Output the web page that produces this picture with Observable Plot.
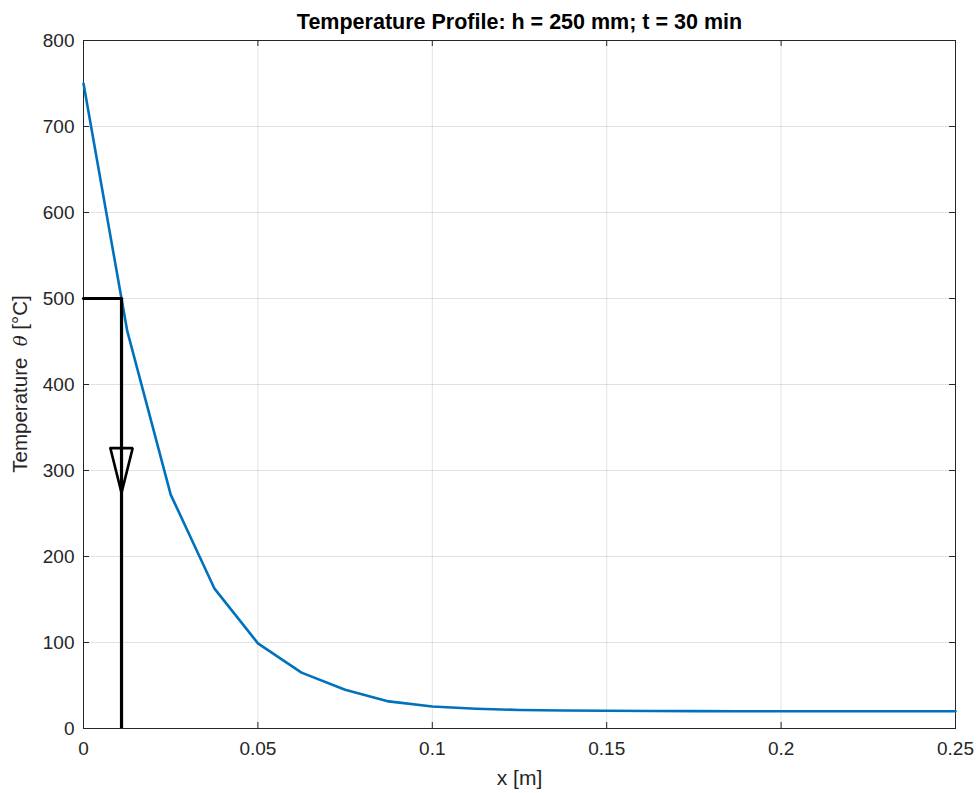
<!DOCTYPE html>
<html><head><meta charset="utf-8">
<script src="https://cdn.jsdelivr.net/npm/d3@7"></script>
<script src="https://cdn.jsdelivr.net/npm/@observablehq/plot@0.6"></script>
<style>
body{margin:0;background:#fff}
#chart svg{font-family:"Liberation Sans",Arial,sans-serif}
</style>
</head><body><div id="chart"></div>
<script>
// ---- data ----
const xPos  = [0, 0.0125, 0.025, 0.0375, 0.05, 0.0625, 0.075, 0.0875, 0.1, 0.1125, 0.125, 0.1375, 0.15, 0.1625, 0.175, 0.1875, 0.2, 0.2125, 0.225, 0.2375, 0.25];
const temps = [750, 463, 272, 163, 99, 65, 45, 31.5, 25.5, 23, 21.5, 21, 20.6, 20.4, 20.2, 20.1, 20, 20, 20, 20, 20];
const xTicks = [0, 0.05, 0.1, 0.15, 0.2, 0.25];
const yTicks = [0, 100, 200, 300, 400, 500, 600, 700, 800];
const markerX = 0.0109;      // x where profile reaches 500 °C
const markerTemp = 500;
const arrowTop = 326, arrowTip = 274, arrowHalf = 0.0032;
const title = "Temperature Profile: h = 250 mm; t = 30 min";
const xLabel = "x [m]";
const yLabelParts = ["Temperature  ", "θ", " [°C]"];

const profile = xPos.map((x, i) => ({x, t: temps[i]}));
const hLine = [{x: 0, t: markerTemp}, {x: markerX, t: markerTemp}];
const arrow = [
  {x: markerX - arrowHalf, t: arrowTop},
  {x: markerX + arrowHalf, t: arrowTop},
  {x: markerX, t: arrowTip},
  {x: markerX - arrowHalf, t: arrowTop}
];

const W = 978, H = 793, mL = 83, mR = 23, mT = 40, mB = 65;
const fw = W - mL - mR, fh = H - mT - mB;
const axisCol = "#262626";

const chart = Plot.plot({
  width: W, height: H,
  marginLeft: mL, marginRight: mR, marginTop: mT, marginBottom: mB,
  style: {fontFamily: '"Liberation Sans", Arial, sans-serif', fontSize: "19px", color: axisCol, background: "#fff"},
  x: {domain: [0, 0.25], type: "linear"},
  y: {domain: [0, 800], type: "linear"},
  marks: [
    Plot.gridX(xTicks, {stroke: "#000", strokeOpacity: 0.11}),
    Plot.gridY(yTicks, {stroke: "#000", strokeOpacity: 0.11}),
    Plot.ruleX(xTicks, {stroke: axisCol, insetTop: fh - 6}),
    Plot.ruleX(xTicks, {stroke: axisCol, insetBottom: fh - 6}),
    Plot.ruleY(yTicks, {stroke: axisCol, insetRight: fw - 6}),
    Plot.ruleY(yTicks, {stroke: axisCol, insetLeft: fw - 6}),
    Plot.frame({stroke: axisCol}),
    Plot.line(profile, {x: "x", y: "t", stroke: "#0072BD", strokeWidth: 2.6}),
    Plot.line(hLine, {x: "x", y: "t", stroke: "#000", strokeWidth: 3.2}),
    Plot.ruleX([markerX], {y1: 0, y2: markerTemp, stroke: "#000", strokeWidth: 3.2}),
    Plot.line(arrow, {x: "x", y: "t", stroke: "#000", strokeWidth: 2.6, strokeLinejoin: "miter"}),
    Plot.axisX(xTicks, {tickSize: 0, tickPadding: 13, fontSize: 19, label: null, tickFormat: d => String(d), fill: axisCol}),
    Plot.axisY(yTicks, {tickSize: 0, tickPadding: 9, fontSize: 19, label: null, tickFormat: d => String(d), fill: axisCol}),
    Plot.text([title], {frameAnchor: "top", lineAnchor: "middle", dy: -18, fontSize: 21.5, fontWeight: "bold", fill: "#000"}),
    Plot.text([xLabel], {frameAnchor: "bottom", lineAnchor: "middle", dy: 50, fontSize: 21, fill: axisCol})
  ]
});

const svg = d3.select(chart);
const yl = svg.append("text")
  .attr("transform", `translate(22,${mT + fh / 2}) rotate(-90)`)
  .attr("text-anchor", "middle")
  .attr("dominant-baseline", "middle")
  .attr("font-size", 20.5)
  .attr("fill", axisCol);
yl.append("tspan").attr("xml:space", "preserve").text(yLabelParts[0]);
yl.append("tspan").attr("font-style", "italic").attr("font-family", '"DejaVu Serif", serif').attr("font-size", 18).text(yLabelParts[1]);
yl.append("tspan").text(yLabelParts[2]);

document.getElementById("chart").appendChild(chart);
</script>
</body></html>
